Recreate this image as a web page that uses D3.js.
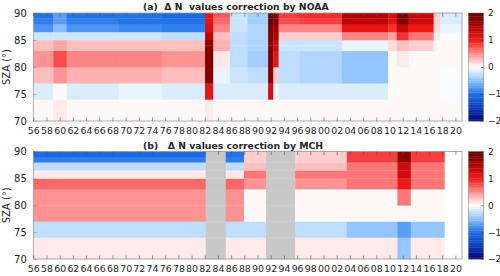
<!DOCTYPE html>
<html><head><meta charset="utf-8">
<script src="https://cdn.jsdelivr.net/npm/d3@7/dist/d3.min.js"></script>
<style>
body{margin:0;background:#fff}
text{font-family:"DejaVu Sans",sans-serif;fill:#262626}
</style>
</head><body>
<svg id="chart" width="500" height="276"></svg>
<script>
// ---------------- data ----------------
const szaEdges = [70, 74, 77, 80, 83, 84, 85, 86.5, 88, 89, 90];
const yearTicks = d3.range(1956, 2021, 2);
const szaTicks = [70, 75, 80, 85, 90];
const cbarTicks = [-2, -1, 0, 1, 2];

// (a) NOAA: period starts (decimal year), last period ends at noaaEnd
const noaaStarts = [1956, 1959.03, 1961.06, 1969, 1975.5, 1982.04, 1983.3, 1985.8, 1988.5, 1991.6, 1992.4, 1993.2, 1996.4, 2002.8, 2009.8, 2011.1, 2012.9, 2016.7, 2017.7];
const noaaEnd = 2021;
const noaa70 = [0.05, 0.12, 0.05, 0.05, 0.04, 0.1, 0.05, 0.03, 0.03, 0.05, 0.02, 0.03, 0.03, 0.03, 0.05, 0.03, 0.03, 0.02, 0.02];
const noaa74 = [-0.15, 0.05, -0.15, -0.12, -0.15, 1.1, -0.15, -0.15, -0.15, 1.2, 0.05, -0.15, -0.15, -0.15, -0.05, 0.0, 0.03, 0.0, -0.05];
const noaa77 = [0.3, 0.45, 0.35, 0.35, 0.3, 1.7, -0.1, -0.25, -0.3, 1.7, 0.2, -0.3, -0.35, -0.45, 0.0, 0.05, 0.0, 0.0, -0.05];
const noaa80 = [0.45, 0.75, 0.5, 0.55, 0.45, 1.75, 0.1, -0.3, -0.4, 1.75, 1.1, -0.3, -0.35, -0.45, 0.05, 0.1, 0.05, 0.0, 0.0];
const noaa83 = [0.25, 0.4, 0.3, 0.3, 0.3, 1.7, 0.35, -0.3, -0.35, 1.7, 1.3, -0.2, -0.25, -0.1, 0.15, 0.3, 0.2, 0.05, 0.05];
const noaa84 = [0.25, 0.4, 0.3, 0.3, 0.3, 1.7, 0.35, -0.3, -0.35, 1.7, 1.3, -0.2, -0.25, -0.1, 0.15, 0.3, 0.2, 0.05, 0.05];
const noaa85 = [-0.25, -0.25, -0.2, -0.2, -0.3, 1.4, 0.3, -0.3, -0.35, 1.7, 1.5, 0.2, 0.2, 0.55, 0.4, 0.9, 0.6, 0.1, -0.05];
const noaa86 = [-0.8, -0.55, -0.8, -0.85, -0.9, 1.2, 0.55, -0.25, -0.35, 1.8, 1.6, 0.5, 0.55, 1.1, 0.9, 1.35, 1.0, 0.15, -0.1];
const noaa88 = [-0.9, -0.75, -0.9, -0.95, -1.0, 1.1, 0.65, -0.2, -0.4, 1.9, 1.8, 0.8, 0.85, 1.4, 1.1, 1.8, 1.3, 0.2, -0.15];
const noaa89 = [-0.95, -0.75, -0.95, -1.0, -1.05, 1.1, 0.7, -0.2, -0.4, 1.9, 1.85, 0.85, 0.9, 1.5, 1.2, 1.85, 1.35, 0.2, -0.15];

// (b) MCH: period starts; null = no data (grey)
const mchStarts = [1956, 1982.14, 1985.18, 1987.95, 1991.29, 1995.69, 2003.53, 2011.2, 2013.23];
const mchEnd = 2018.33;
const mch70 = [0.07, null, 0.07, 0.07, null, 0.07, 0.07, -0.5, 0.07];
const mch74 = [-0.3, null, -0.3, -0.3, null, -0.3, -0.47, -0.75, -0.47];
const mch77 = [0.44, null, 0.44, 0.0, null, 0.0, 0.0, 0.0, 0.0];
const mch80 = [0.44, null, 0.44, 0.05, null, 0.05, 0.05, 0.58, 0.05];
const mch83 = [0.68, null, 0.68, 0.44, null, 0.44, 0.6, 1.02, 0.6];
const mch84 = [0.68, null, 0.68, 0.44, null, 0.44, 0.6, 1.02, 0.6];
const mch85 = [0.08, null, 0.08, 0.62, null, 0.6, 0.62, 1.3, 0.62];
const mch86 = [-0.3, null, -0.3, 0.3, null, 0.27, 0.62, 1.3, 0.62];
const mch88 = [-0.92, null, -0.92, 0.22, null, 0.2, 0.85, 1.7, 0.85];
const mch89 = [-1.02, null, -1.0, 0.22, null, 0.2, 0.85, 1.72, 0.85];

// ---------------- build tables ----------------
function buildCells(starts, end, rows) {
  const cells = [];
  rows.forEach((vals, ri) => {
    vals.forEach((v, si) => {
      cells.push({
        x0: starts[si], x1: si + 1 < starts.length ? starts[si + 1] : end,
        y0: szaEdges[ri], y1: szaEdges[ri + 1], v: v
      });
    });
  });
  return cells;
}
const noaaCells = buildCells(noaaStarts, noaaEnd, [noaa70, noaa74, noaa77, noaa80, noaa83, noaa84, noaa85, noaa86, noaa88, noaa89]);
const mchCells = buildCells(mchStarts, mchEnd, [mch70, mch74, mch77, mch80, mch83, mch84, mch85, mch86, mch88, mch89]);

// ---------------- drawing ----------------
const svg = d3.select("#chart");
const color = d3.scaleLinear()
  .domain([-2, -1.5, -1, -0.5, 0, 0.5, 1, 1.5, 2])
  .range(["#000070", "#0a3ab8", "#1a6ee8", "#8cc2ff", "#ffffff", "#ff8c8c", "#f21a1a", "#b40000", "#5a0000"])
  .clamp(true);
const nLevels = 64;
const quant = v => {
  const k = Math.min(nLevels - 1, Math.max(0, Math.floor((v + 2) / 4 * nLevels)));
  return color(-2 + (k + 0.5) * 4 / nLevels);
};

const x = d3.scaleLinear().domain([1956, 2021]).range([33.3, 462]);

function panel(cells, top, bottom, title) {
  const y = d3.scaleLinear().domain([70, 90]).range([bottom, top]);
  const g = svg.append("g");
  g.selectAll("rect.cell").data(cells).join("rect")
    .attr("class", "cell")
    .attr("x", d => x(d.x0))
    .attr("width", d => x(d.x1) - x(d.x0) + 0.3)
    .attr("y", d => y(d.y1))
    .attr("height", d => y(d.y0) - y(d.y1) + 0.3)
    .attr("fill", d => d.v === null ? "#c8c8c8" : quant(d.v));

  // box
  g.append("rect").attr("x", x(1956)).attr("y", top)
    .attr("width", x(2021) - x(1956)).attr("height", bottom - top)
    .attr("fill", "none").attr("stroke", "#9a9a9a").attr("stroke-width", 0.8);

  // x axis (ticks inside, labels below)
  const xb = d3.axisBottom(x).tickValues(yearTicks)
    .tickFormat(d => String(d % 100).padStart(2, "0"))
    .tickSizeInner(-3.5).tickSizeOuter(0).tickPadding(6.5);
  const xa = g.append("g").attr("transform", `translate(0,${bottom})`).call(xb);
  xa.select(".domain").remove();
  xa.selectAll("line").attr("stroke", "#555").attr("stroke-width", 0.6);
  xa.selectAll("text").attr("font-size", 9.4).attr("font-family", "DejaVu Sans").attr("fill", "#262626");
  const xt = d3.axisTop(x).tickValues(yearTicks).tickFormat("").tickSizeInner(-3.5).tickSizeOuter(0);
  const xta = g.append("g").attr("transform", `translate(0,${top})`).call(xt);
  xta.select(".domain").remove();
  xta.selectAll("line").attr("stroke", "#555").attr("stroke-width", 0.6);

  // y axis
  const yl = d3.axisLeft(y).tickValues(szaTicks).tickSizeInner(-3.5).tickSizeOuter(0).tickPadding(6.5);
  const ya = g.append("g").attr("transform", `translate(${x(1956)},0)`).call(yl);
  ya.select(".domain").remove();
  ya.selectAll("line").attr("stroke", "#555").attr("stroke-width", 0.6).attr("stroke-opacity", 0.5);
  ya.selectAll("text").attr("font-size", 10).attr("font-family", "DejaVu Sans").attr("fill", "#262626");

  g.append("text").attr("transform", `translate(10,${(top + bottom) / 2}) rotate(-90)`)
    .attr("text-anchor", "middle").attr("font-size", 10).text("SZA (°)");

  g.append("text").attr("x", 143).attr("y", top - 3)
    .attr("font-size", 9.3).attr("font-weight", "bold")
    .style("white-space", "pre").text(title);

  // colorbar
  const cb = d3.scaleLinear().domain([-2, 2]).range([bottom, top]);
  const levels = d3.range(nLevels).map(k => -2 + k * 4 / nLevels);
  const cx = 468.5, cw = 15;
  g.selectAll("rect.cb").data(levels).join("rect").attr("class", "cb")
    .attr("x", cx).attr("width", cw)
    .attr("y", d => cb(d + 4 / nLevels))
    .attr("height", (bottom - top) / nLevels + 0.3)
    .attr("fill", d => color(d + 2 / nLevels));
  g.append("rect").attr("x", cx).attr("y", top).attr("width", cw).attr("height", bottom - top)
    .attr("fill", "none").attr("stroke", "#777").attr("stroke-width", 0.5);
  const ca = d3.axisRight(cb).tickValues(cbarTicks).tickFormat(d3.format("d"))
    .tickSizeInner(-2.5).tickSizeOuter(0).tickPadding(4.5);
  const cag = g.append("g").attr("transform", `translate(${cx + cw},0)`).call(ca);
  cag.select(".domain").remove();
  cag.selectAll("line").attr("stroke", "#444").attr("stroke-width", 0.6);
  cag.selectAll("text").attr("font-size", 9).attr("font-family", "DejaVu Sans").attr("fill", "#262626");
}

panel(noaaCells, 13, 121, "(a)  \u0394 N  values correction by NOAA");
panel(mchCells, 151.5, 259, "(b)   \u0394 N values correction by MCH");
</script>
</body></html>
